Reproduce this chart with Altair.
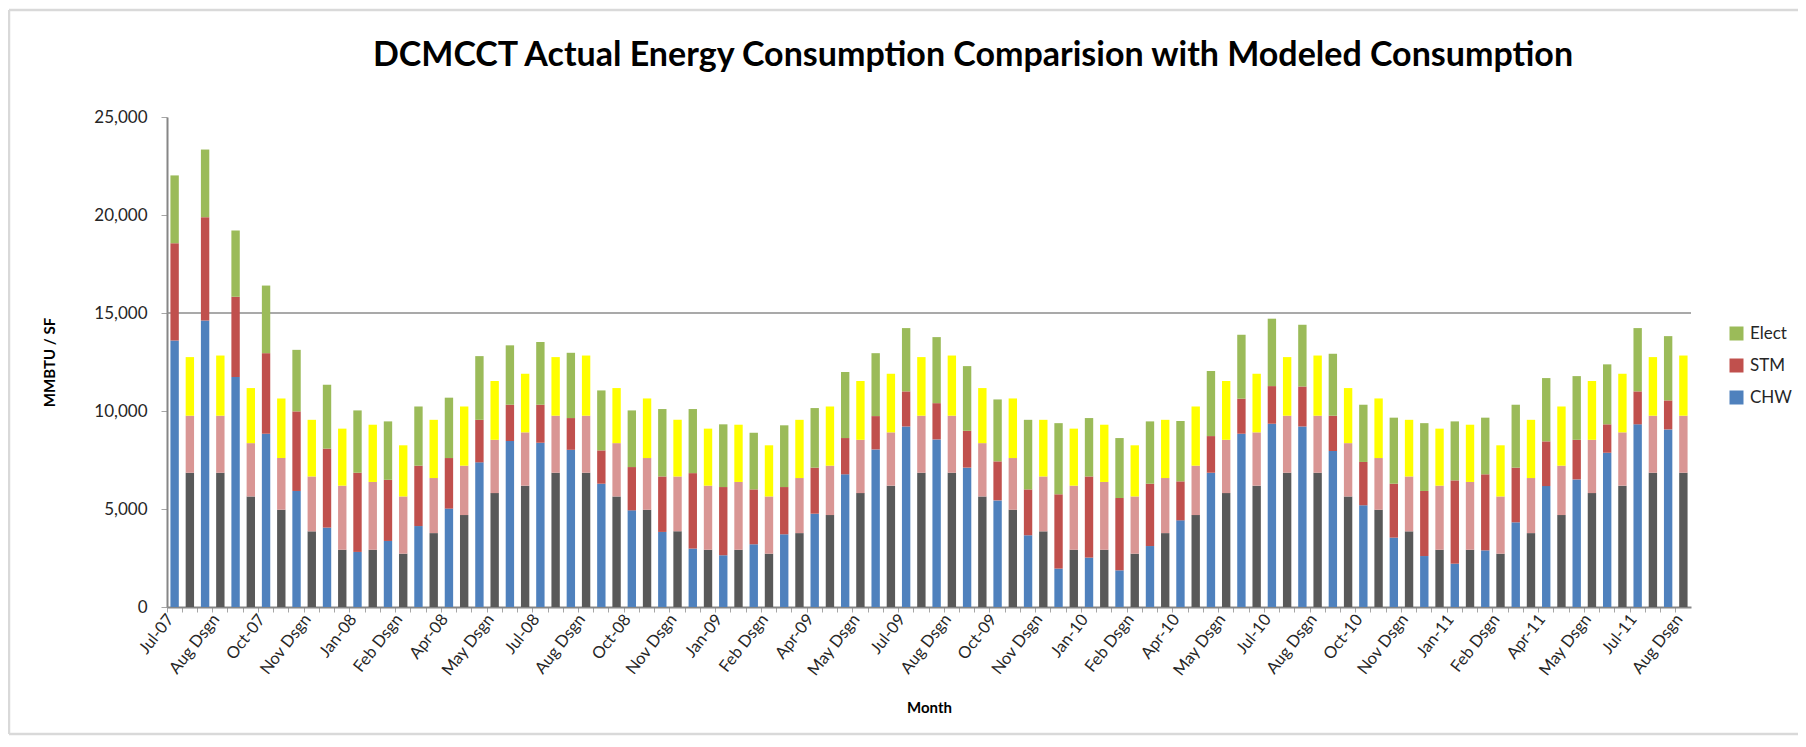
import altair as alt
import pandas as pd

# ---- categories ----
months = [
    "Jul-07", "Aug-07", "Sep-07", "Oct-07", "Nov-07", "Dec-07",
    "Jan-08", "Feb-08", "Mar-08", "Apr-08", "May-08", "Jun-08",
    "Jul-08", "Aug-08", "Sep-08", "Oct-08", "Nov-08", "Dec-08",
    "Jan-09", "Feb-09", "Mar-09", "Apr-09", "May-09", "Jun-09",
    "Jul-09", "Aug-09", "Sep-09", "Oct-09", "Nov-09", "Dec-09",
    "Jan-10", "Feb-10", "Mar-10", "Apr-10", "May-10", "Jun-10",
    "Jul-10", "Aug-10", "Sep-10", "Oct-10", "Nov-10", "Dec-10",
    "Jan-11", "Feb-11", "Mar-11", "Apr-11", "May-11", "Jun-11",
    "Jul-11", "Aug-11",
]

# ---- actual consumption (segment values) ----
act_chw = [13600, 14620, 11730, 8840, 5920, 4050, 2810, 3370, 4130, 5020, 7380, 8470,
           8380, 8020, 6290, 4930, 3830, 2980, 2640, 3200, 3710, 4760, 6770, 8040,
           9210, 8550, 7110, 5440, 3660, 1960, 2520, 1870, 3110, 4420, 6850, 8840,
           9350, 9210, 7960, 5190, 3540, 2600, 2210, 2890, 4320, 6170, 6510, 7870,
           9320, 9060]
act_stm = [4960, 5270, 4100, 4110, 4060, 4030, 4040, 3120, 3080, 2580, 2170, 1850,
           1940, 1620, 1700, 2210, 2830, 3850, 3480, 2800, 2410, 2350, 1850, 1700,
           1790, 1850, 1880, 1990, 2340, 3790, 4140, 3690, 3180, 1990, 1870, 1790,
           1920, 2040, 1800, 2210, 2750, 3320, 4250, 3880, 2790, 2280, 2020, 1450,
           1680, 1480]
act_elect = [3460, 3450, 3380, 3450, 3140, 3260, 3180, 2980, 3020, 3080, 3250, 3030,
             3200, 3330, 3060, 2890, 3440, 3270, 3200, 2890, 3150, 3040, 3370, 3210,
             3230, 3370, 3300, 3160, 3550, 3630, 2980, 3060, 3180, 3080, 3320, 3260,
             3440, 3150, 3160, 2920, 3370, 3460, 3010, 2890, 3210, 3230, 3250, 3060,
             3230, 3280]

# ---- modeled (design) consumption by month (segment values) ----
dsgn_chw = {"Jul": 6850, "Aug": 6850, "Sep": 5640, "Oct": 4960, "Nov": 3860, "Dec": 2920,
            "Jan": 2920, "Feb": 2720, "Mar": 3770, "Apr": 4690, "May": 5810, "Jun": 6190}
dsgn_stm = {"Jul": 2910, "Aug": 2910, "Sep": 2720, "Oct": 2640, "Nov": 2800, "Dec": 3270,
            "Jan": 3460, "Feb": 2920, "Mar": 2810, "Apr": 2520, "May": 2720, "Jun": 2720}
dsgn_elect = {"Jul": 2990, "Aug": 3070, "Sep": 2810, "Oct": 3040, "Nov": 2890, "Dec": 2910,
              "Jan": 2920, "Feb": 2610, "Mar": 2970, "Apr": 3020, "May": 3000, "Jun": 2990}

series_domain = ["CHW", "STM", "Elect", "CHW Dsgn", "STM Dsgn", "Elect Dsgn"]
series_colors = ["#4F81BD", "#C0504D", "#9BBB59", "#595959", "#D99694", "#FFFF00"]

rows = []
k = 0
for i, m in enumerate(months):
    key = f"{k:03d}|{m}"
    for o, (s, v) in enumerate([("CHW", act_chw[i]), ("STM", act_stm[i]), ("Elect", act_elect[i])]):
        rows.append({"key": key, "series": s, "value": v, "ord": o})
    k += 1
    mon = m[:3]
    key = f"{k:03d}|{mon} Dsgn"
    for o, (s, v) in enumerate([("CHW Dsgn", dsgn_chw[mon]), ("STM Dsgn", dsgn_stm[mon]),
                                ("Elect Dsgn", dsgn_elect[mon])]):
        rows.append({"key": key, "series": s, "value": v, "ord": o})
    k += 1
df = pd.DataFrame(rows)

W, H = 1524, 490
FONT = "Lato"

bars = alt.Chart(df).mark_bar(width=alt.RelativeBandSize(0.55)).encode(
    x=alt.X(
        "key:N",
        title="Month",
        scale=alt.Scale(paddingInner=0, paddingOuter=0),
        axis=alt.Axis(
            labelExpr="toNumber(slice(datum.value,0,3)) % 3 == 0 ? slice(datum.value,4) : ''",
            labelAngle=-52, labelAlign="right", labelBaseline="middle",
            labelOverlap=False, labelBound=False, labelPadding=4,
            labelFontSize=16.5, labelFont=FONT, labelColor="#262626",
            bandPosition=0, labelOffset=-4,
            tickSize=5, tickColor="#A6A6A6", tickWidth=1,
            domainColor="#868686", domainWidth=2, grid=False,
            titleFont=FONT, titleFontSize=15, titleFontWeight="bold", titleColor="#000",
            titleX=W / 2, titleY=100, titleAnchor="middle", titleBaseline="middle",
            titleAlign="center",
        ),
    ),
    y=alt.Y(
        "value:Q",
        stack="zero",
        title="MMBTU / SF",
        scale=alt.Scale(domain=[0, 25000], nice=False),
        axis=alt.Axis(
            values=[0, 5000, 10000, 15000, 20000, 25000], format=",.0f",
            labelFont=FONT, labelFontSize=17, labelColor="#262626", labelPadding=14,
            tickSize=6, tickColor="#A6A6A6", domainColor="#868686", domainWidth=2,
            gridColor="#D0D0D0", gridWidth=1.5,
            titleFont=FONT, titleFontSize=15, titleFontWeight="bold", titleColor="#000",
            titleX=-118, titleY=H / 2, titleAngle=-90, titleAlign="center",
            titleBaseline="middle",
        ),
    ),
    color=alt.Color(
        "series:N",
        scale=alt.Scale(domain=series_domain, range=series_colors),
        legend=alt.Legend(
            values=["Elect", "STM", "CHW"], title=None, orient="none",
            legendX=1561, legendY=208, symbolType="square", symbolSize=196,
            symbolStrokeWidth=0, labelFont=FONT, labelFontSize=17, labelColor="#262626",
            rowPadding=14, labelOffset=5, padding=0,
        ),
    ),
    order=alt.Order("ord:Q"),
)

rule15 = alt.Chart(pd.DataFrame({"a": [0]})).mark_rule(color="#8C8C8C", strokeWidth=1.5).encode(
    y=alt.datum(15000)
)

# light grey chart frame (left, top and bottom edges)
one = pd.DataFrame({"a": [0]})
frame_style = dict(color="#D9D9D9", strokeWidth=2.5)
frame_top = alt.Chart(one).mark_rule(**frame_style).encode(
    x=alt.value(-158), x2=alt.value(W + 300), y=alt.value(-107))
frame_bottom = alt.Chart(one).mark_rule(**frame_style).encode(
    x=alt.value(-158), x2=alt.value(W + 300), y=alt.value(H + 127))
frame_left = alt.Chart(one).mark_rule(**frame_style).encode(
    x=alt.value(-158), y=alt.value(-107), y2=alt.value(H + 127))

chart = alt.layer(frame_top, frame_bottom, frame_left, rule15, bars).properties(
    width=W, height=H,
    background="white",
    title=alt.TitleParams(
        "DCMCCT Actual Energy Consumption Comparision with Modeled Consumption",
        font=FONT, fontSize=34, fontWeight="bold", color="#000",
        anchor="middle", frame="group", dx=44, offset=0, dy=91, baseline="alphabetic",
    ),
    autosize=alt.AutoSizeParams(type="none"),
    padding={"left": 159, "top": 109, "right": 107, "bottom": 130},
).configure_view(stroke=None)

chart.save("out.html", embed_options={"renderer": "svg", "actions": False})
